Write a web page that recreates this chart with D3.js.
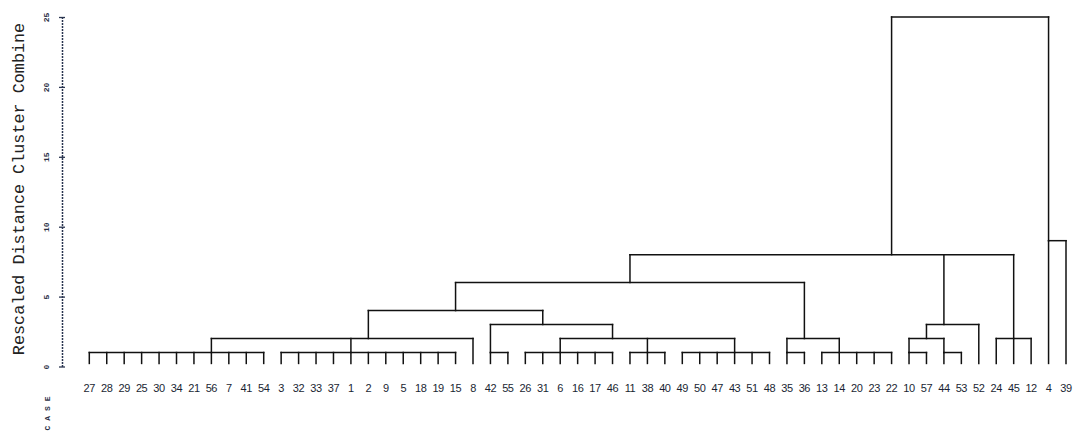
<!DOCTYPE html>
<html>
<head>
<meta charset="utf-8">
<script src="https://cdn.jsdelivr.net/npm/d3@7"></script>
<style>
  body { margin: 0; background: #fff; }
  .link { stroke: #111; stroke-width: 1.5; fill: none; stroke-linecap: square; }
  .axis .domain { stroke: #2a3550; stroke-width: 1.5; stroke-dasharray: 2,1; }
  .axis .tick line { stroke: #2a3550; stroke-width: 1.3; }
</style>
</head>
<body>
<div id="graph"></div>
<script>
(function() {
    const width = 1073, height = 439;

    // case labels, left to right
    const cases = [27, 28, 29, 25, 30, 34, 21, 56, 7, 41, 54, 3, 32, 33, 37, 1, 2, 9, 5, 18, 19, 15,
        8, 42, 55, 26, 31, 6, 16, 17, 46, 11, 38, 40, 49, 50, 47, 43, 51, 48, 35, 36,
        13, 14, 20, 23, 22, 10, 57, 44, 53, 52, 24, 45, 12, 4, 39];

    // which cluster each case joins first
    const leafParent = ["A","A","A","A","A","A","A","A","A","A","A",
        "B","B","B","B","B","B","B","B","B","B","B",
        "D","E","E","F1","F1","F1","F1","F1","F1","F2","F2","F2",
        "F3","F3","F3","F3","F3","F3","J1","J1","J2","J2","J2","J2","J2",
        "M1","M1","M2","M2","N","P","P","P","Q","Q"];

    // clusters: id, rescaled distance, case position the stem rises from, parent
    const clusterIds     = ["A", "B", "D", "E", "F1", "F2", "F3", "I", "H", "G", "J1", "J2", "J", "K", "M1", "M2", "M", "N", "P", "R", "Q", "T"];
    const clusterHeights = [1,   1,   2,   1,   1,    1,    1,    2,   3,   4,   1,    1,    2,   6,   1,    1,    2,   3,   2,   8,   9,   25];
    const clusterStems   = [7,   15,  16,  23,  27,   32,   37,   30,  26,  21,  40,   43,   41,  31,  47,   49,   48,  49,  53,  46,  55,  null];
    const clusterParents = ["D", "D", "G", "H", "I",  "I",  "I",  "H", "G", "K", "J",  "J",  "K", "R", "M",  "M",  "N", "R", "R", "T", "T", null];

    const distTicks = [0, 5, 10, 15, 20, 25];
    const leafHeight = 0.22;

    const nodes = cases.map((c, i) => ({id: "c" + c, parent: leafParent[i], h: leafHeight, stem: i, label: c}))
        .concat(clusterIds.map((id, i) => ({id: id, parent: clusterParents[i], h: clusterHeights[i], stem: clusterStems[i]})));

    const root = d3.stratify()
        .id(d => d.id)
        .parentId(d => d.parent)(nodes);

    const x = d3.scalePoint()
        .domain(d3.range(cases.length))
        .range([89.3, 1066]);

    const y = d3.scaleLinear()
        .domain([0, 25])
        .range([366.5, 17]);

    const svg = d3.select("#graph")
        .append("svg")
        .attr("width", width)
        .attr("height", height);

    // vertical drops from each parent's bar down to the child
    svg.selectAll(".drop")
        .data(root.descendants().filter(d => d.parent))
        .enter()
        .append("line")
        .attr("class", "link")
        .attr("x1", d => x(d.data.stem))
        .attr("x2", d => x(d.data.stem))
        .attr("y1", d => y(d.data.h))
        .attr("y2", d => y(d.parent.data.h));

    // horizontal bars joining the children of a cluster
    svg.selectAll(".bar")
        .data(root.descendants().filter(d => d.children))
        .enter()
        .append("line")
        .attr("class", "link")
        .attr("x1", d => x(d3.min(d.children, c => c.data.stem)))
        .attr("x2", d => x(d3.max(d.children, c => c.data.stem)))
        .attr("y1", d => y(d.data.h))
        .attr("y2", d => y(d.data.h));

    // case labels
    svg.selectAll(".case")
        .data(root.leaves())
        .enter()
        .append("text")
        .attr("x", d => x(d.data.stem))
        .attr("y", 392)
        .attr("text-anchor", "middle")
        .style("font-family", "'Liberation Sans', Arial, sans-serif")
        .style("font-size", "11px")
        .style("letter-spacing", "-0.4px")
        .style("fill", "#1a1f33")
        .text(d => d.data.label);

    // distance axis
    const yAxis = d3.axisLeft(y)
        .tickValues(distTicks)
        .tickSizeInner(3)
        .tickSizeOuter(0)
        .tickPadding(12);

    const ax = svg.append("g")
        .attr("class", "axis")
        .attr("transform", "translate(62,0)")
        .call(yAxis);

    ax.selectAll(".tick line").attr("x1", 3);
    ax.selectAll(".tick text")
        .attr("x", 0)
        .attr("y", 0)
        .attr("dy", null)
        .attr("transform", "translate(-13,0) rotate(-90)")
        .attr("text-anchor", "middle")
        .style("font-family", "'Liberation Mono', monospace")
        .style("font-size", "8px")
        .style("font-weight", "bold")
        .style("fill", "#2a2f45");

    svg.append("text")
        .attr("transform", "translate(24,189) rotate(-90)")
        .attr("text-anchor", "middle")
        .style("font-family", "'Liberation Mono', 'Courier New', monospace")
        .style("font-size", "16.8px")
        .style("fill", "#222")
        .text("Rescaled Distance Cluster Combine");

    svg.append("text")
        .attr("transform", "translate(50,411) rotate(-90)")
        .attr("text-anchor", "middle")
        .style("font-family", "'Liberation Mono', monospace")
        .style("font-size", "8px")
        .style("font-weight", "bold")
        .style("letter-spacing", "5px")
        .style("fill", "#2a2f45")
        .text("CASE");
})();
</script>
</body>
</html>
